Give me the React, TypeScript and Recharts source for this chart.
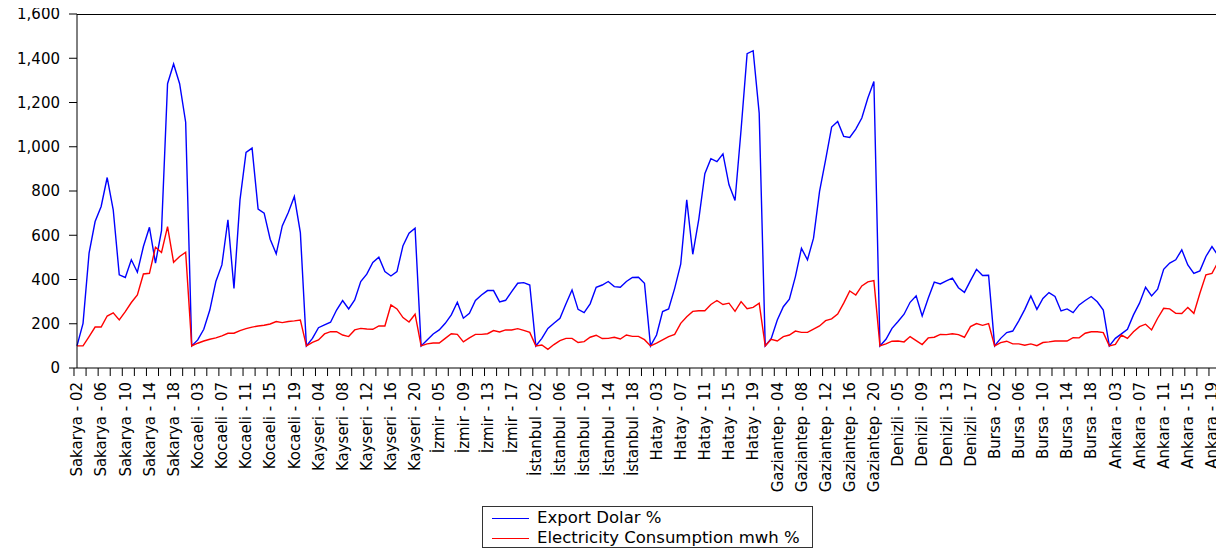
import React from 'react';
import { LineChart, Line, XAxis, YAxis } from 'recharts';

// years 2002..2020, shown as two digits after the city name
const YEARS = ['02', '03', '04', '05', '06', '07', '08', '09', '10', '11', '12', '13', '14', '15', '16', '17', '18', '19', '20'];

const CITIES = ['Sakarya', 'Kocaeli', 'Kayseri', 'İzmir', 'İstanbul', 'Hatay', 'Gaziantep', 'Denizli', 'Bursa', 'Ankara'];

// Export Dolar % (index, first year = 100)
const exportSakarya = [100, 202, 519, 662, 730, 861, 715, 421, 409, 489, 433, 549, 636, 474, 621, 1285, 1374, 1285, 1111];
const exportKocaeli = [100, 127, 175, 262, 391, 466, 670, 360, 760, 974, 994, 718, 700, 582, 516, 642, 703, 775, 612];
const exportKayseri = [100, 134, 182, 195, 207, 262, 305, 267, 308, 391, 424, 477, 501, 436, 416, 436, 553, 609, 632];
const exportIzmir = [100, 127, 154, 172, 202, 240, 297, 225, 247, 305, 330, 350, 350, 299, 306, 345, 383, 386, 375];
const exportIstanbul = [100, 134, 179, 202, 225, 290, 353, 265, 250, 290, 365, 375, 391, 368, 365, 391, 409, 410, 383];
const exportHatay = [100, 149, 255, 267, 360, 469, 760, 514, 673, 878, 946, 933, 968, 828, 757, 1077, 1421, 1434, 1152];
const exportGaziantep = [100, 134, 217, 277, 311, 413, 541, 489, 587, 798, 941, 1089, 1114, 1047, 1042, 1080, 1130, 1220, 1295];
const exportDenizli = [100, 130, 179, 210, 243, 297, 326, 235, 315, 388, 380, 394, 406, 363, 342, 395, 446, 418, 419];
const exportBursa = [100, 134, 160, 167, 213, 265, 326, 265, 314, 341, 323, 258, 267, 250, 285, 305, 323, 299, 262];
const exportAnkara = [100, 134, 154, 175, 240, 293, 365, 326, 356, 446, 474, 489, 534, 466, 428, 439, 504, 549, 508];

// Electricity Consumption mwh % (index, first year = 100)
const elecSakarya = [100, 100, 142, 185, 185, 235, 249, 217, 255, 296, 330, 425, 428, 546, 522, 639, 478, 504, 523];
const elecKocaeli = [100, 112, 122, 130, 136, 145, 157, 157, 169, 178, 185, 190, 193, 199, 210, 205, 210, 213, 217];
const elecKayseri = [100, 116, 127, 154, 164, 164, 149, 142, 172, 179, 176, 175, 190, 190, 285, 267, 228, 208, 243];
const elecIzmir = [100, 109, 113, 113, 134, 155, 152, 118, 136, 152, 152, 155, 169, 163, 172, 172, 178, 170, 161];
const elecIstanbul = [100, 104, 84, 106, 124, 134, 134, 115, 119, 139, 148, 133, 134, 139, 131, 149, 143, 143, 128];
const elecHatay = [100, 112, 127, 142, 152, 202, 232, 256, 259, 259, 287, 305, 287, 293, 256, 300, 268, 274, 293];
const elecGaziantep = [100, 130, 122, 142, 149, 167, 161, 161, 176, 190, 214, 222, 244, 293, 348, 330, 371, 389, 395];
const elecDenizli = [100, 109, 121, 122, 118, 142, 124, 106, 136, 139, 152, 151, 155, 151, 139, 187, 201, 193, 201];
const elecBursa = [100, 115, 121, 109, 109, 103, 109, 101, 115, 118, 122, 122, 122, 137, 136, 157, 164, 164, 160];
const elecAnkara = [100, 107, 149, 134, 164, 187, 198, 172, 225, 270, 267, 247, 246, 274, 247, 338, 421, 428, 478];

const EXPORT_SERIES = [exportSakarya, exportKocaeli, exportKayseri, exportIzmir, exportIstanbul, exportHatay, exportGaziantep, exportDenizli, exportBursa, exportAnkara];
const ELEC_SERIES = [elecSakarya, elecKocaeli, elecKayseri, elecIzmir, elecIstanbul, elecHatay, elecGaziantep, elecDenizli, elecBursa, elecAnkara];

const Y_TICKS = [0, 200, 400, 600, 800, 1000, 1200, 1400, 1600];

const data = CITIES.flatMap((city, c) =>
  YEARS.map((yr, i) => ({
    label: `${city} - ${yr}`,
    exportPct: EXPORT_SERIES[c][i],
    elecPct: ELEC_SERIES[c][i],
  }))
);

const labelIndex = new Map(data.map((d, i) => [d.label, i]));

const FONT = '"DejaVu Sans", sans-serif';
const PLOT_LEFT = 69;
const PLOT_TOP = 14;
const PLOT_WIDTH = 1141;
const PLOT_HEIGHT = 354;
const BAND = PLOT_WIDTH / data.length;

// tick marks sit between observations (every 2nd), labels on every 4th observation
const CategoryTick = (props: any) => {
  const { x, y, payload } = props;
  const idx = labelIndex.get(payload.value) ?? 0;
  const bx = x - BAND / 2;
  const ly = y + 14;
  return (
    <g>
      <line x1={bx} y1={y} x2={bx} y2={y + 8} stroke="#000" strokeWidth={1} />
      {idx % 4 === 0 && (
        <text
          x={x}
          y={ly}
          dy="0.35em"
          transform={`rotate(-90, ${x}, ${ly})`}
          textAnchor="end"
          fontSize={15}
          fontFamily={FONT}
          fill="#000"
        >
          {payload.value}
        </text>
      )}
    </g>
  );
};

const LegendRow = ({ color, text }: { color: string; text: string }) => (
  <div style={{ display: 'flex', alignItems: 'center', height: 20 }}>
    <div style={{ width: 37, height: 0, borderTop: `1.5px solid ${color}`, marginLeft: 9, marginRight: 8 }} />
    <span style={{ fontFamily: FONT, fontSize: 16.5, color: '#000', whiteSpace: 'nowrap', lineHeight: '20px' }}>{text}</span>
  </div>
);

export default function App() {
  return (
    <div style={{ position: 'relative', width: 1216, height: 551, marginTop: -8 }}>
      <LineChart width={1216} height={551} data={data} margin={{ top: PLOT_TOP, right: 6, bottom: 0, left: 0 }}>
        <XAxis
          dataKey="label"
          interval={1}
          height={551 - PLOT_TOP - PLOT_HEIGHT}
          tickSize={0}
          tickMargin={0}
          tickLine={false}
          axisLine={{ stroke: '#000' }}
          tick={<CategoryTick />}
        />
        <YAxis
          width={PLOT_LEFT}
          domain={[0, 1600]}
          ticks={Y_TICKS}
          interval={0}
          tickSize={8}
          tickMargin={9}
          tickLine={{ stroke: '#000' }}
          axisLine={{ stroke: '#000' }}
          tick={{ fontSize: 15, fontFamily: FONT, fill: '#000' }}
          tickFormatter={(v: number) => v.toLocaleString('en-US')}
        />
        <Line type="linear" dataKey="exportPct" name="Export Dolar %" stroke="#0000FF" strokeWidth={1.4} dot={false} isAnimationActive={false} />
        <Line type="linear" dataKey="elecPct" name="Electricity Consumption mwh %" stroke="#FF0000" strokeWidth={1.4} dot={false} isAnimationActive={false} />
      </LineChart>
      {/* top and right edges of the plot frame */}
      <div
        style={{
          position: 'absolute',
          left: PLOT_LEFT,
          top: PLOT_TOP,
          width: PLOT_WIDTH + 1,
          height: PLOT_HEIGHT + 1,
          boxSizing: 'border-box',
          borderTop: '1px solid #000',
          borderRight: '1px solid #000',
          pointerEvents: 'none',
        }}
      />
      <div
        style={{
          position: 'absolute',
          left: 474,
          top: 506,
          width: 331,
          height: 42,
          boxSizing: 'border-box',
          border: '1px solid #333',
          paddingTop: 1,
        }}
      >
        <LegendRow color="#0000FF" text="Export Dolar %" />
        <LegendRow color="#FF0000" text="Electricity Consumption mwh %" />
      </div>
    </div>
  );
}
